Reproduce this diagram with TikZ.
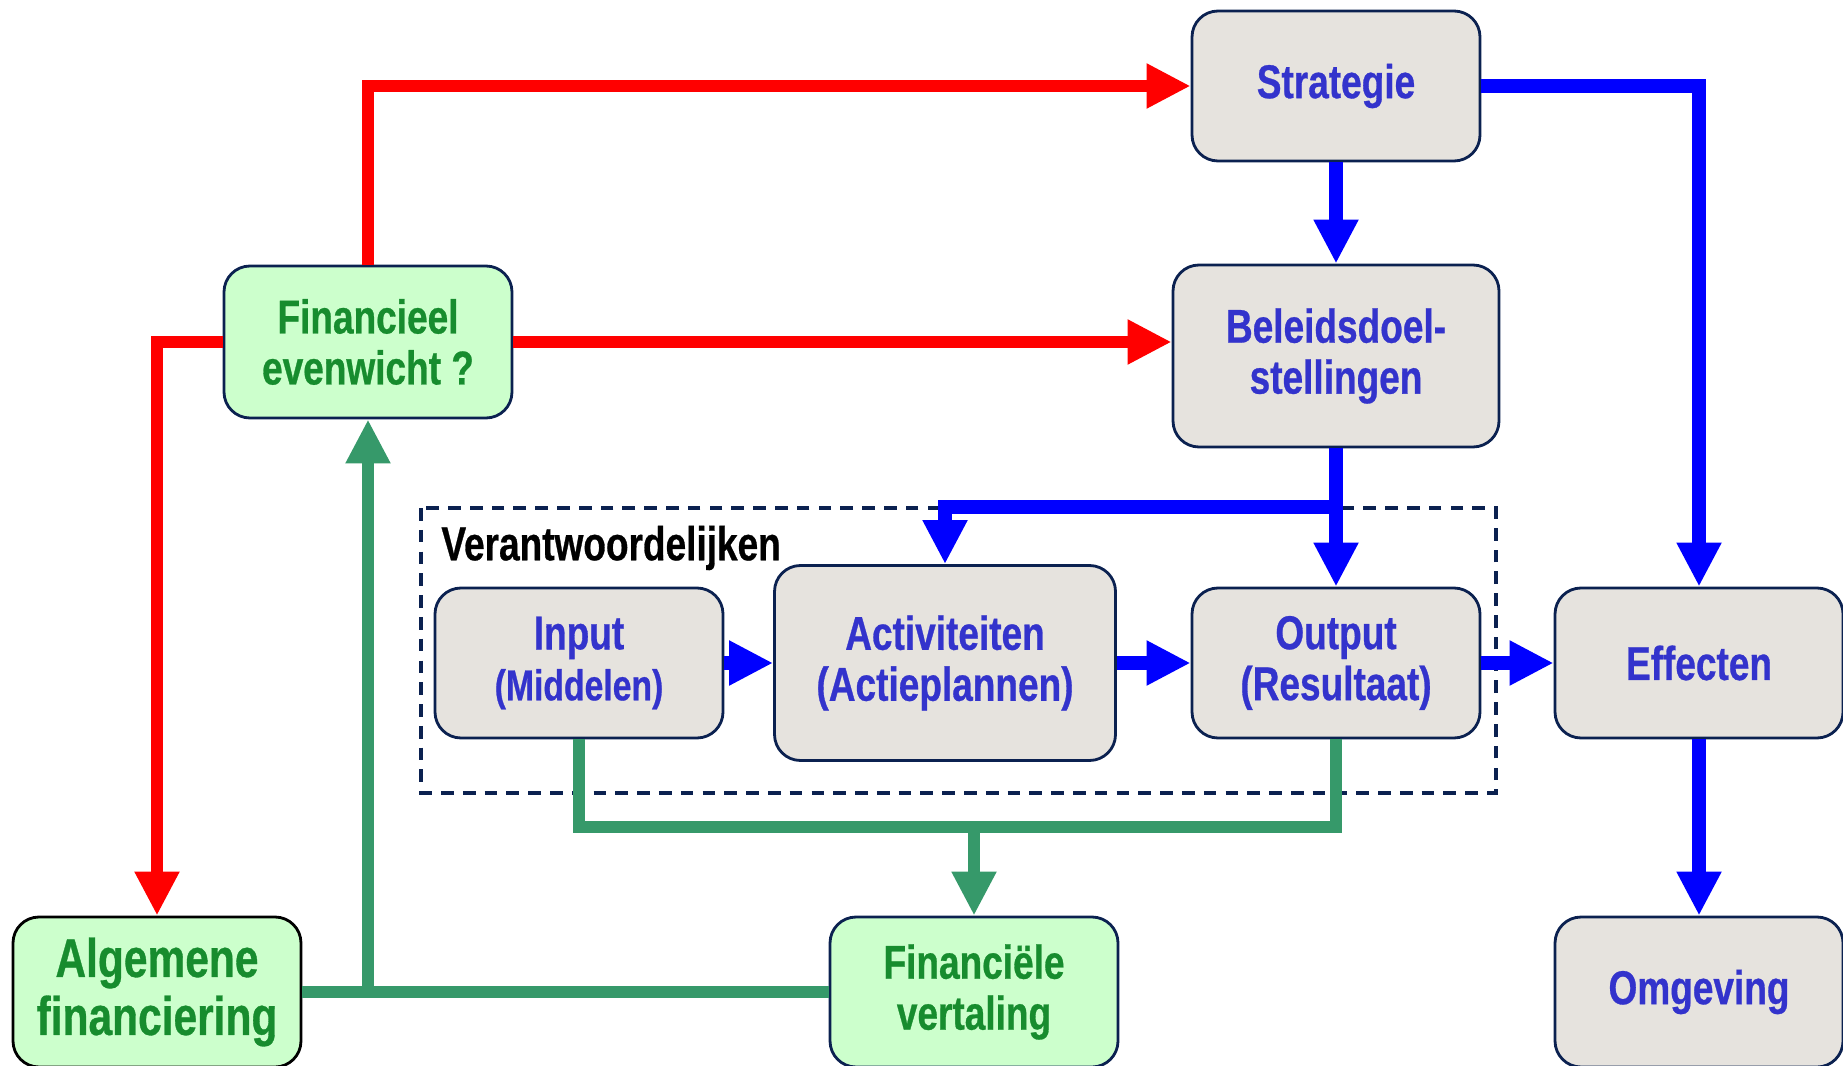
\documentclass[tikz,border=0pt]{standalone}
\usepackage{fontspec}
\setmainfont{Liberation Sans}[FakeStretch=0.78, BoldFeatures={FakeBold=0.6}]
\usetikzlibrary{arrows.meta,positioning}

\definecolor{boxgray}{HTML}{E6E3DE}
\definecolor{boxline}{HTML}{0B2150}
\definecolor{txtblue}{HTML}{3333CC}
\definecolor{txtgreen}{HTML}{178C2E}
\definecolor{fillgreen}{HTML}{CCFFCC}
\definecolor{flowblue}{HTML}{0000FF}
\definecolor{flowred}{HTML}{FF0000}
\definecolor{flowgreen}{HTML}{36996A}

\tikzset{
  box/.style={draw=boxline, line width=0.8pt, rounded corners=0.26cm,
    minimum width=2.88cm, minimum height=1.5cm, inner sep=0pt, align=center,
    font=\fontsize{13.5}{14.5}\selectfont\bfseries},
  graybox/.style={box, fill=boxgray, text=txtblue},
  greenbox/.style={box, fill=fillgreen, text=txtgreen},
  bigtip/.style={-{Triangle[length=0.44cm,width=0.42cm]}},
  blueflow/.style={draw=flowblue, line width=3.8pt, bigtip},
  redflow/.style={draw=flowred, line width=3.4pt, bigtip},
  greenline/.style={draw=flowgreen, line width=3.2pt},
  greenflow/.style={greenline, bigtip}
}

\begin{document}
\begin{tikzpicture}[on grid]
\useasboundingbox (0,0) rectangle (18.43,-10.66);

% verantwoordelijken
\draw[boxline, line width=1.1pt, dash pattern=on 3.6pt off 2.6pt]
  (4.21,-5.08) rectangle (14.96,-7.93);
\node[anchor=west, font=\fontsize{13.5}{14}\selectfont\bfseries] (verant) at (4.29,-5.48) {Verantwoordelijken};

\node[graybox] (strat) at (13.36,-0.86) {Strategie};
\node[graybox, minimum width=3.26cm, minimum height=1.82cm] (doel) [below=2.70cm of strat] {Beleidsdoel-\\stellingen};
\node[graybox] (output) [below=3.07cm of doel] {Output\\(Resultaat)};
\node[graybox] (effect) [right=3.63cm of output] {Effecten};
\node[graybox] (omgev) [below=3.29cm of effect] {Omgeving};
\node[graybox, minimum width=3.41cm, minimum height=1.95cm] (activ) [left=3.91cm of output] {Activiteiten\\(Actieplannen)};
\node[graybox] (input) [left=3.66cm of activ] {Input\\{\fontsize{12.3}{13.5}\selectfont(Middelen)}};

\node[greenbox, minimum height=1.52cm] (fin) at (3.68,-3.42) {Financieel\\evenwicht ?};
\node[greenbox, draw=black, font=\fontsize{15.5}{16.5}\selectfont\bfseries] (alg) at (1.57,-9.92) {Algemene\\financiering};
\node[greenbox] (vert) at (9.74,-9.92) {Financiële\\vertaling};

% rood
\draw[redflow] (fin.north) |- (strat.west);
\draw[redflow] (fin.east) -- (doel.west |- fin.east);
\draw[redflow] (fin.west) -| (alg.north);

% blauw
\coordinate (split) at (13.36,-5.07);
\draw[blueflow] (strat) -- (doel);
\draw[blueflow] (strat.east) -| (effect.north);
\draw[blueflow] (doel) -- (output);
\draw[blueflow] (split) -| (activ.north);
\draw[blueflow] (input) -- (activ);
\draw[blueflow] (activ) -- (output);
\draw[blueflow] (output) -- (effect);
\draw[blueflow] (effect) -- (omgev);

% groen
\coordinate (gsplit) at (9.74,-8.27);
\coordinate (gup) at (fin.south |- alg.east);
\draw[greenline] (input.south) |- (gsplit) -| (output.south);
\draw[greenflow] (gsplit) -- (vert.north);
\draw[greenline] (alg.east) -- (vert.west);
\draw[greenflow] (gup) -- (fin.south);
\end{tikzpicture}
\end{document}
